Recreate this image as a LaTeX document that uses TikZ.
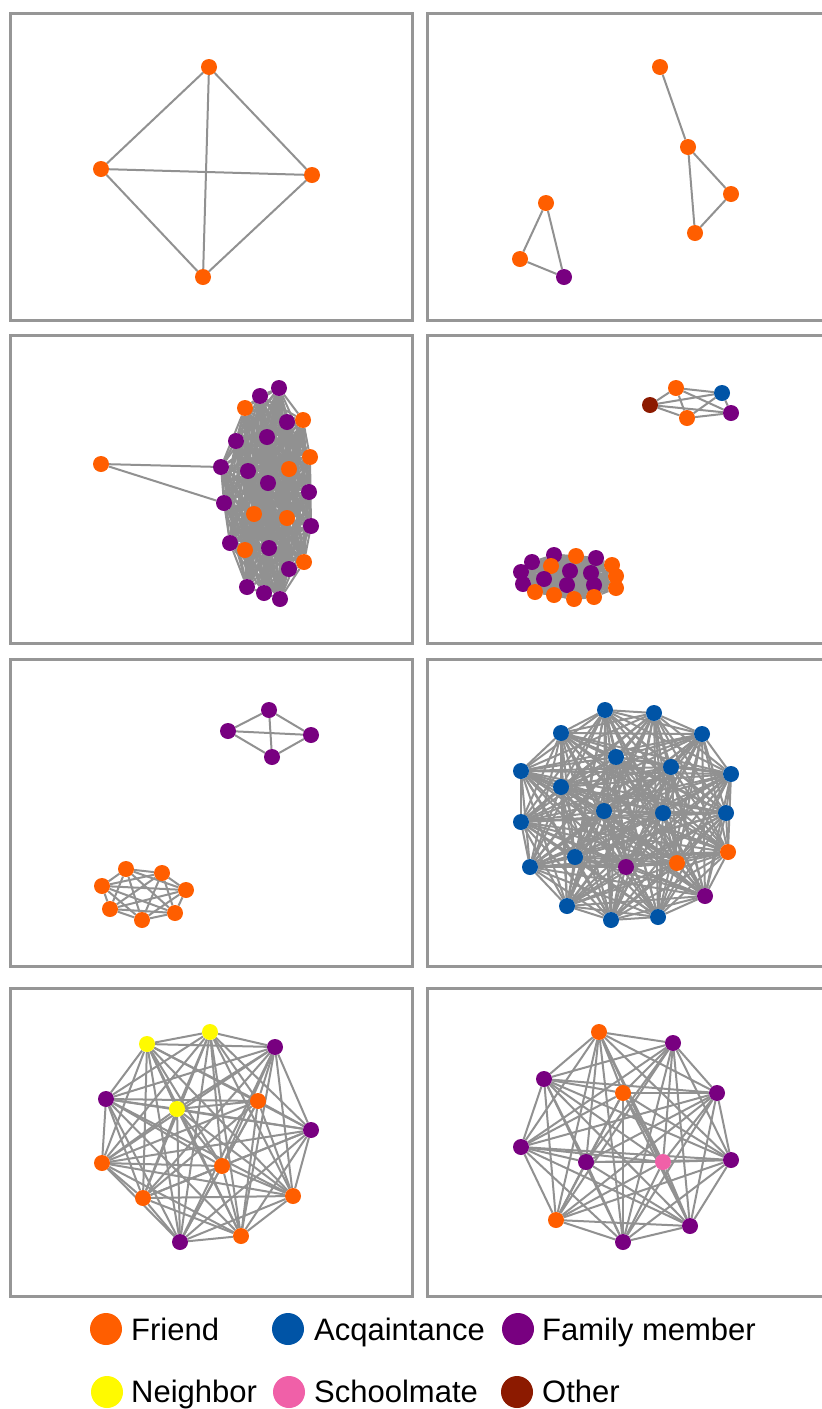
\documentclass[tikz,border=0pt]{standalone}
\usepackage{fontspec}
\setmainfont{Liberation Sans}
\pgfdeclarelayer{bg}
\pgfsetlayers{bg,main}
\definecolor{friendcol}{RGB}{255,94,0}
\definecolor{acqcol}{RGB}{0,84,166}
\definecolor{familycol}{RGB}{120,0,128}
\definecolor{neighborcol}{RGB}{255,250,0}
\definecolor{schoolcol}{RGB}{240,96,168}
\definecolor{othercol}{RGB}{140,26,0}
\definecolor{edgegray}{RGB}{145,145,145}
\definecolor{framegray}{RGB}{150,150,150}
\begin{document}
\begin{tikzpicture}[x=1pt,y=-1pt,
  dot/.style={circle,inner sep=0pt,minimum size=16pt},
  fr/.style={dot,fill=friendcol},
  ac/.style={dot,fill=acqcol},
  fa/.style={dot,fill=familycol},
  ne/.style={dot,fill=neighborcol},
  sc/.style={dot,fill=schoolcol},
  ot/.style={dot,fill=othercol},
  link/.style={draw=edgegray,line width=2pt},
  panel/.style={draw=framegray,line width=3pt},
  keydot/.style={circle,inner sep=0pt,minimum size=32pt},
  keytext/.style={anchor=base west,inner sep=0pt,font=\fontsize{31}{31}\selectfont}]
\useasboundingbox (0,0) rectangle (822,1409);
\draw[panel] (10,13) rectangle (412,320);
\draw[panel] (427,13) rectangle (830,320);
\draw[panel] (10,335) rectangle (412,643);
\draw[panel] (427,335) rectangle (830,643);
\draw[panel] (10,659) rectangle (412,966);
\draw[panel] (427,659) rectangle (830,966);
\draw[panel] (10,988) rectangle (412,1296);
\draw[panel] (427,988) rectangle (830,1296);
\foreach \s/\p [count=\i] in {fr/{209,67},fr/{101,169},fr/{312,175},fr/{203,277}}
  \node[\s] (a\i) at (\p) {};
\foreach \s/\p [count=\i] in {fr/{660,67},fr/{688,147},fr/{731,194},fr/{695,233},fr/{546,203},fr/{520,259},fa/{564,277}}
  \node[\s] (b\i) at (\p) {};
\node[fr] (c0) at (101,464) {};
\foreach \s/\p [count=\i] in {fa/{279,388},fa/{260,396},fr/{245,408},fa/{287,422},fr/{303,420},
  fa/{236,441},fa/{267,437},fr/{310,457},fa/{221,467},fa/{248,471},fr/{289,469},fa/{268,483},
  fa/{309,492},fa/{224,503},fr/{254,514},fr/{287,518},fa/{311,526},fa/{230,543},fr/{245,550},
  fa/{269,548},fa/{289,569},fr/{304,562},fa/{247,587},fa/{264,593},fa/{280,599}}
  \node[\s] (c\i) at (\p) {};
\foreach \s/\p [count=\i] in {ot/{650,405},fr/{676,388},ac/{722,393},fr/{687,418},fa/{731,413}}
  \node[\s] (d\i) at (\p) {};
\foreach \s/\p [count=\i] in {fa/{532,562},fa/{554,555},fr/{576,556},fa/{596,558},fr/{551,566},
  fa/{521,572},fa/{570,571},fa/{591,573},fr/{612,565},fr/{616,576},fa/{523,584},fa/{544,579},
  fa/{567,585},fa/{594,585},fr/{616,588},fr/{535,592},fr/{554,595},fr/{574,599},fr/{594,597}}
  \node[\s] (e\i) at (\p) {};
\foreach \s/\p [count=\i] in {fa/{269,710},fa/{228,731},fa/{311,735},fa/{272,757}}
  \node[\s] (f\i) at (\p) {};
\foreach \s/\p [count=\i] in {fr/{126,869},fr/{162,873},fr/{102,886},fr/{186,890},fr/{110,909},fr/{175,913},fr/{142,920}}
  \node[\s] (g\i) at (\p) {};
\foreach \s/\p [count=\i] in {ac/{605,710},ac/{654,713},ac/{561,733},ac/{702,734},ac/{616,757},
  ac/{671,767},ac/{521,771},ac/{731,774},ac/{561,787},ac/{604,811},ac/{663,813},ac/{726,813},
  ac/{521,822},fr/{728,852},ac/{575,857},fr/{677,863},fa/{626,867},ac/{530,867},fa/{705,896},
  ac/{567,906},ac/{658,917},ac/{611,920}}
  \node[\s] (h\i) at (\p) {};
\foreach \s/\p [count=\i] in {ne/{210,1032},ne/{147,1044},fa/{275,1047},fa/{106,1099},fr/{258,1101},
  ne/{177,1109},fa/{311,1130},fr/{102,1163},fr/{222,1166},fr/{143,1198},fr/{293,1196},
  fr/{241,1236},fa/{180,1242}}
  \node[\s] (k\i) at (\p) {};
\foreach \s/\p [count=\i] in {fr/{599,1032},fa/{673,1043},fa/{544,1079},fr/{623,1093},fa/{717,1093},
  fa/{521,1147},fa/{586,1162},sc/{663,1162},fa/{731,1160},fr/{556,1220},fa/{690,1226},fa/{623,1242}}
  \node[\s] (m\i) at (\p) {};
\begin{pgfonlayer}{bg}
\fill[white] (0,0) rectangle (822,1409);
\foreach \g/\n in {a/4,c/25,d/5,e/19,f/4,g/7,h/22,k/13,m/12}
  \foreach \i in {1,...,\n}
    \foreach \j in {1,...,\n}
      {\ifnum\j>\i \draw[link] (\g\i) -- (\g\j);\fi}
\draw[link] (b1) -- (b2);
\draw[link] (b2) -- (b3);
\draw[link] (b2) -- (b4);
\draw[link] (b3) -- (b4);
\draw[link] (b5) -- (b6);
\draw[link] (b5) -- (b7);
\draw[link] (b6) -- (b7);
\draw[link] (c0) -- (c9);
\draw[link] (c0) -- (c14);
\end{pgfonlayer}
\node[keydot,fill=friendcol] (kfr) at (106,1329) {};
\node[keytext] (tfr) at (131,1340) {Friend};
\node[keydot,fill=acqcol] (kac) at (288,1329) {};
\node[keytext] (tac) at (314,1340) {Acqaintance};
\node[keydot,fill=familycol] (kfa) at (518,1329) {};
\node[keytext] (tfa) at (542,1340) {Family member};
\node[keydot,fill=neighborcol] (kne) at (107,1392) {};
\node[keytext] (tne) at (131,1402) {Neighbor};
\node[keydot,fill=schoolcol] (ksc) at (289,1392) {};
\node[keytext] (tsc) at (314,1402) {Schoolmate};
\node[keydot,fill=othercol] (kot) at (517,1392) {};
\node[keytext] (tot) at (542,1402) {Other};
\end{tikzpicture}
\end{document}
